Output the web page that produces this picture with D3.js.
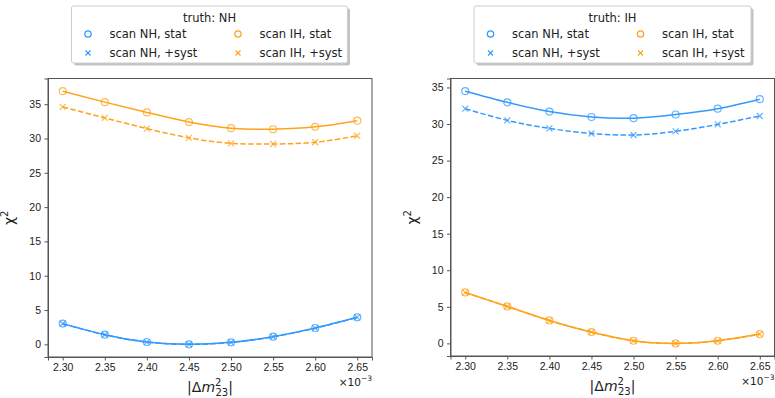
<!DOCTYPE html>
<html>
<head>
<meta charset="utf-8">
<script src="https://cdn.jsdelivr.net/npm/d3@7/dist/d3.min.js"></script>
<style>
    body { margin: 0; background: #fff; }
    svg { font-family: "DejaVu Sans", sans-serif; }
    .axis path, .axis line { stroke: #555; }
    .axis text { fill: #222; font-size: 10.5px; }
</style>
</head>
<body>
<svg id="chart" width="775" height="398"></svg>
<script>
// dm2_23 scan points (x 1e-3 eV^2)
var dm2 = [2.30, 2.35, 2.40, 2.45, 2.50, 2.55, 2.60, 2.65];
var xTicks = [2.30, 2.35, 2.40, 2.45, 2.50, 2.55, 2.60, 2.65];
var yTicks = [0, 5, 10, 15, 20, 25, 30, 35];

// truth: NH
var nhTruth_nhStat = [3.02, 1.41, 0.34, 0.0, 0.29, 1.12, 2.38, 3.94];
var nhTruth_nhSyst = [3.00, 1.40, 0.33, 0.0, 0.28, 1.10, 2.36, 3.92];
var nhTruth_ihStat = [36.9, 35.3, 33.8, 32.4, 31.5, 31.35, 31.7, 32.6];
var nhTruth_ihSyst = [34.6, 33.0, 31.45, 30.1, 29.3, 29.2, 29.45, 30.4];

// truth: IH
var ihTruth_nhStat = [34.5, 32.97, 31.7, 30.96, 30.8, 31.3, 32.1, 33.4];
var ihTruth_nhSyst = [32.1, 30.5, 29.4, 28.7, 28.5, 29.0, 29.95, 31.1];
var ihTruth_ihStat = [6.97, 5.06, 3.14, 1.55, 0.36, 0.0, 0.36, 1.27];
var ihTruth_ihSyst = [6.95, 5.04, 3.12, 1.54, 0.35, 0.0, 0.35, 1.26];

var BLUE = "#3399ff", ORANGE = "#ffa31a";

var svg = d3.select("#chart");

function drawPanel(cfg) {
    var g = svg.append("g").attr("transform", "translate(" + cfg.left + "," + cfg.top + ")");
    var w = cfg.width, h = cfg.height;

    var allY = d3.merge(cfg.series.map(function (s) { return s.values; }));
    var yMax = d3.max(allY), yMin = 0;
    var yPad = (yMax - yMin) * 0.05;
    var xPad = (d3.max(dm2) - d3.min(dm2)) * 0.05;

    var x = d3.scaleLinear().domain([d3.min(dm2) - xPad, d3.max(dm2) + xPad]).range([0, w]);
    var y = d3.scaleLinear().domain([yMin - yPad, yMax + yPad]).range([h, 0]);

    g.append("g").attr("class", "axis")
        .attr("transform", "translate(0," + h + ")")
        .call(d3.axisBottom(x).tickValues(xTicks).tickFormat(d3.format(".2f")).tickSizeOuter(0).tickSize(3.5).tickPadding(3.5));
    g.append("g").attr("class", "axis")
        .call(d3.axisLeft(y).tickValues(yTicks).tickSizeOuter(0).tickSize(3.5).tickPadding(3.5));

    // frame
    g.append("rect")
        .attr("width", w).attr("height", h)
        .attr("fill", "none").attr("stroke", "#555").attr("stroke-width", 1);

    var line = d3.line()
        .x(function (d, i) { return x(dm2[i]); })
        .y(function (d) { return y(d); })
        .curve(d3.curveNatural);

    cfg.series.forEach(function (s) {
        g.append("path")
            .datum(s.values)
            .attr("d", line)
            .attr("fill", "none")
            .attr("stroke", s.color)
            .attr("stroke-width", 1.5)
            .attr("stroke-dasharray", s.dashed ? "5.5,2.4" : null);

        var pts = g.append("g").selectAll("g").data(s.values).enter().append("g")
            .attr("transform", function (d, i) { return "translate(" + x(dm2[i]) + "," + y(d) + ")"; });
        if (s.marker === "o") {
            pts.append("circle").attr("r", 3.5)
                .attr("fill", "none").attr("stroke", s.color).attr("stroke-width", 1.2).attr("opacity", 0.75);
        } else {
            pts.append("path").attr("d", "M-3,-3L3,3M-3,3L3,-3")
                .attr("stroke", s.color).attr("stroke-width", 1.2).attr("opacity", 0.75);
        }
    });

    // y label chi^2
    var yl = g.append("text")
        .attr("transform", "translate(" + cfg.ylabelX + "," + (h / 2) + ")rotate(-90)")
        .attr("text-anchor", "middle")
        .style("font-size", "14px").attr("fill", "#222");
    yl.append("tspan").text("\u03c7");
    yl.append("tspan").attr("dy", -6).style("font-size", "10px").text("2");

    // x label |dm^2_23|
    var xl = g.append("text")
        .attr("x", w / 2).attr("y", h + 35)
        .attr("text-anchor", "middle")
        .style("font-size", "14px").attr("fill", "#222");
    xl.append("tspan").text("|\u0394");
    xl.append("tspan").style("font-style", "italic").text("m");
    xl.append("tspan").attr("dy", -6).style("font-size", "10px").text("2");
    xl.append("tspan").attr("dx", -6).attr("dy", 10).style("font-size", "10px").text("23");
    xl.append("tspan").attr("dy", -4).text("|");

    // offset text
    var off = g.append("text")
        .attr("x", w).attr("y", h + 29)
        .attr("text-anchor", "end")
        .style("font-size", "10.5px").attr("fill", "#222");
    off.append("tspan").text("\u00d710");
    off.append("tspan").attr("dy", -5).style("font-size", "7.5px").text("\u22123");

    // legend
    var lg = svg.append("g").attr("transform", "translate(" + cfg.legend.x + "," + cfg.legend.y + ")");
    var lw = cfg.legend.w, lh = 57;
    lg.append("rect").attr("x", 2.5).attr("y", 2.5).attr("width", lw).attr("height", lh)
        .attr("rx", 2).attr("fill", "#888").attr("opacity", 0.5);
    lg.append("rect").attr("width", lw).attr("height", lh).attr("rx", 2)
        .attr("fill", "#fff").attr("stroke", "#ccc");
    lg.append("text").attr("x", lw / 2).attr("y", 16).attr("text-anchor", "middle")
        .style("font-size", "11.5px").attr("fill", "#222").text(cfg.title);

    var order = [0, 1, 2, 3];
    order.forEach(function (k) {
        var s = cfg.legendSeries[k];
        var col = Math.floor(k / 2), row = k % 2;
        var mx = 16.5 + col * 150, my = 28 + row * 19;
        var item = lg.append("g").attr("transform", "translate(" + mx + "," + my + ")");
        if (s.marker === "o") {
            item.append("circle").attr("r", 3.2).attr("fill", "none")
                .attr("stroke", s.color).attr("stroke-width", 1.2);
        } else {
            item.append("path").attr("d", "M-2.5,-2.5L2.5,2.5M-2.5,2.5L2.5,-2.5")
                .attr("stroke", s.color).attr("stroke-width", 1.2);
        }
        item.append("text").attr("x", 21.5).attr("y", 4)
            .style("font-size", "11.5px").attr("fill", "#222").text(s.label);
    });
}

var legendNH = [
    { label: "scan NH, stat", color: BLUE, marker: "o" },
    { label: "scan NH, +syst", color: BLUE, marker: "x" },
    { label: "scan IH, stat", color: ORANGE, marker: "o" },
    { label: "scan IH, +syst", color: ORANGE, marker: "x" }
];

drawPanel({
    left: 48, top: 78.5, width: 324, height: 278.5,
    ylabelX: -34,
    title: "truth: NH",
    legend: { x: 71.5, y: 6, w: 276 },
    legendSeries: legendNH,
    series: [
        { values: nhTruth_nhStat, color: BLUE, marker: "o" },
        { values: nhTruth_nhSyst, color: BLUE, marker: "x", dashed: true },
        { values: nhTruth_ihStat, color: ORANGE, marker: "o" },
        { values: nhTruth_ihSyst, color: ORANGE, marker: "x", dashed: true }
    ]
});

drawPanel({
    left: 450.5, top: 78.5, width: 324, height: 277.5,
    ylabelX: -34,
    title: "truth: IH",
    legend: { x: 474, y: 6, w: 277 },
    legendSeries: legendNH,
    series: [
        { values: ihTruth_nhStat, color: BLUE, marker: "o" },
        { values: ihTruth_nhSyst, color: BLUE, marker: "x", dashed: true },
        { values: ihTruth_ihStat, color: ORANGE, marker: "o" },
        { values: ihTruth_ihSyst, color: ORANGE, marker: "x", dashed: true }
    ]
});
</script>
</body>
</html>
